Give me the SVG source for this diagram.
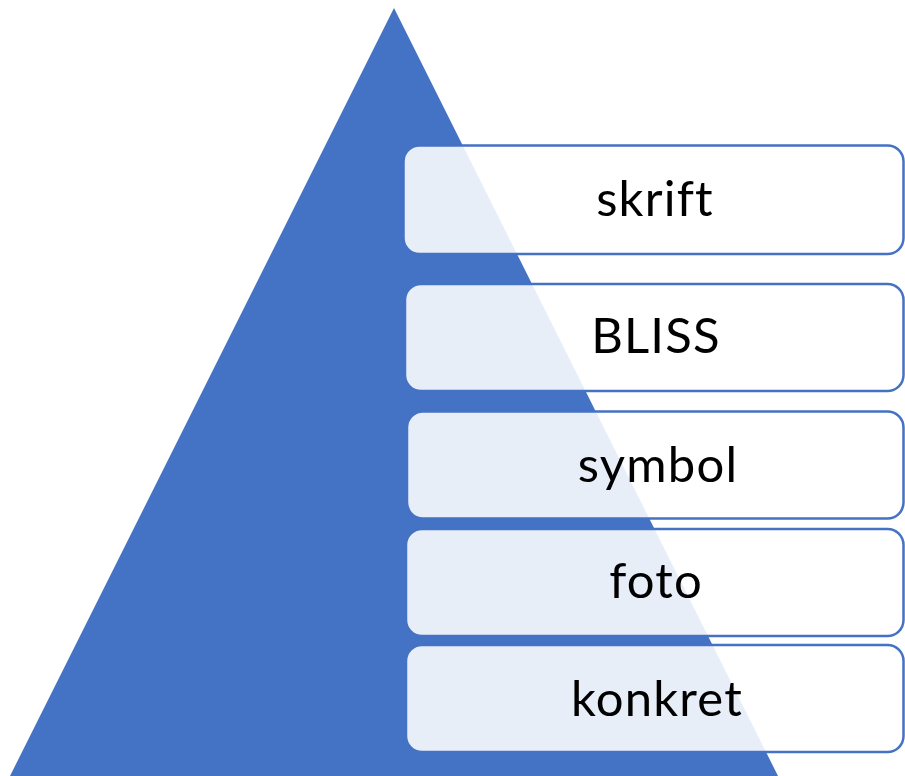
<svg xmlns="http://www.w3.org/2000/svg" width="905" height="776" viewBox="0 0 905 776">
  <style>
    .box { fill: #ffffff; fill-opacity: 0.88; stroke: #4472C4; stroke-width: 2.5; }
    .lbl { font-family: Lato, "Liberation Sans", sans-serif; font-size: 49px; letter-spacing: 1.2px; fill: #000000; text-anchor: middle; }
  </style>
  <rect width="905" height="776" fill="#ffffff"/>
  <g id="pyramid">
    <polygon points="394,8 778,776 10,776" fill="#4472C4"/>
  </g>
  <g id="connectors"></g>
  <g id="node-skrift">
    <rect class="box" x="403.5" y="145.5" width="500" height="108.5" rx="16"/>
    <text class="lbl" x="655" y="216">skrift</text>
  </g>
  <g id="node-bliss">
    <rect class="box" x="405" y="284" width="498.5" height="107" rx="16"/>
    <text class="lbl" x="656" y="353">BLISS</text>
  </g>
  <g id="node-symbol">
    <rect class="box" x="407" y="411.5" width="496.5" height="107" rx="16"/>
    <text class="lbl" x="658" y="482">symbol</text>
  </g>
  <g id="node-foto">
    <rect class="box" x="406" y="529" width="497.5" height="107" rx="16"/>
    <text class="lbl" x="656" y="598">foto</text>
  </g>
  <g id="node-konkret">
    <rect class="box" x="406" y="645" width="497.5" height="107" rx="16"/>
    <text class="lbl" x="657" y="716">konkret</text>
  </g>
</svg>
